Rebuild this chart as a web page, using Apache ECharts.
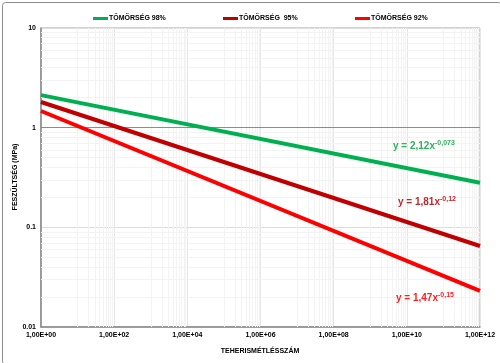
<!DOCTYPE html>
<html>
<head>
<meta charset="utf-8">
<script src="https://cdn.jsdelivr.net/npm/echarts@6/dist/echarts.min.js"></script>
<style>
html,body{margin:0;padding:0;background:#fff;}
#c{width:500px;height:363px;}
</style>
</head>
<body>
<div id="c"></div>
<script>
// ---- data ----
var seriesNames = ['TÖMÖRSÉG 98%', 'TÖMÖRSÉG  95%', 'TÖMÖRSÉG 92%'];
var xValues = [1, 1e12];
var green98 = [2.12, 0.28];
var darkRed95 = [1.81, 0.065];
var red92 = [1.47, 0.023];
var equations = [
  {base: 'y = 2,12x', exp: '-0,073'},
  {base: 'y = 1,81x', exp: '-0,12'},
  {base: 'y = 1,47x', exp: '-0,15'}
];
var xTickLabels = ['1,00E+00','1,00E+02','1,00E+04','1,00E+06','1,00E+08','1,00E+10','1,00E+12'];
var yTickLabels = ['0.01','0.1','1','10'];
var xName = 'TEHERISMÉTLÉSSZÁM';
var yName = 'FESZÜLTSÉG (MPa)';

var colors = ['#00b050', '#c00000', '#ff0000'];
var eqColors = ['#2db35a', '#c0282d', '#ff2020'];

function pairs(ys) { return xValues.map(function (x, i) { return [x, ys[i]]; }); }

// minor grid positions (axis structure, not data)
var xMinor = [];
for (var k = 0; k < 6; k++) {
  var b = Math.pow(100, k);
  for (var j = 1; j <= 9; j++) xMinor.push(b * 10 * j);
}
var yMinor = [];
for (var e = -2; e <= 0; e++) {
  for (var m = 2; m <= 9; m++) yMinor.push(m * Math.pow(10, e));
}
var gridMarks = [];
xMinor.forEach(function (v) { gridMarks.push({xAxis: v, lineStyle: {color: '#f3f3f3'}}); });
yMinor.forEach(function (v) { gridMarks.push({yAxis: v, lineStyle: {color: '#f3f3f3'}}); });
gridMarks.push({yAxis: 1, lineStyle: {color: '#8c8c8c'}});

var chart = echarts.init(document.getElementById('c'), null, {renderer: 'canvas'});
var font = '"Liberation Sans", Arial, sans-serif';

var seriesData = [green98, darkRed95, red92];
var series = [{
  name: '_grid', type: 'line', data: [], silent: true, z: 1,
  markLine: {silent: true, symbol: ['none', 'none'], animation: false, label: {show: false},
    lineStyle: {type: 'solid', width: 1}, data: gridMarks}
}];
seriesData.forEach(function (d, i) {
  series.push({
    name: seriesNames[i], type: 'line', data: pairs(d), showSymbol: false, symbol: 'none',
    lineStyle: {color: colors[i], width: 4}, itemStyle: {color: colors[i]}, z: 5, animation: false
  });
});

var legendLefts = [88, 218, 350];
var legends = seriesNames.map(function (n, i) {
  return {
    left: legendLefts[i], top: 10, data: [n], icon: 'rect', itemWidth: 15, itemHeight: 3, itemGap: 1,
    textStyle: {fontSize: 7, fontWeight: 'bold', color: '#000', fontFamily: font, padding: [0, 0, 0, -4]},
    selectedMode: false
  };
});

var eqPos = [[393, 140], [398, 196], [396, 292]];
var graphics = [
  {type: 'rect', left: 0, top: 0, shape: {x: 0.5, y: 0.5, width: 499, height: 362, r: 3},
   style: {fill: 'none', stroke: '#8c8c8c', lineWidth: 1}, silent: true},
  {type: 'text', style: {text: yName, font: 'bold 7px ' + font, fill: '#000', textAlign: 'center', textVerticalAlign: 'middle'},
   x: 15, y: 177, rotation: Math.PI / 2},
  {type: 'text', style: {text: xName, font: 'bold 7px ' + font, fill: '#000', textAlign: 'center'}, x: 260, y: 348}
];
equations.forEach(function (eq, i) {
  graphics.push({type: 'text', x: eqPos[i][0], y: eqPos[i][1], z: 10,
    style: {text: '{b|' + eq.base + '}{s|' + eq.exp + '}', rich: {
      b: {fontSize: 10, fontWeight: 'bold', fill: eqColors[i], color: eqColors[i], fontFamily: font},
      s: {fontSize: 7, fontWeight: 'bold', fill: eqColors[i], color: eqColors[i], fontFamily: font, verticalAlign: 'top', padding: [0, 0, 6, 0]}
    }}});
});

chart.setOption({
  animation: false,
  backgroundColor: '#fff',
  legend: legends,
  grid: {left: 41, right: 20, top: 28, bottom: 36, show: true, borderColor: '#a6a6a6', borderWidth: 1},
  xAxis: {
    type: 'log', logBase: 100, min: 1, max: 1e12, interval: 1,
    axisLine: {show: true, lineStyle: {color: '#868686', width: 1.5}},
    axisTick: {show: false},
    splitLine: {show: true, lineStyle: {color: '#e6e6e6', width: 1}},
    axisLabel: {fontSize: 7, fontWeight: 'bold', color: '#000', fontFamily: font, margin: 5,
      formatter: function (v) { var p = Math.round(Math.log10(v) / 2); return xTickLabels[p] || ''; }}
  },
  yAxis: {
    type: 'log', logBase: 10, min: 0.01, max: 10, interval: 1,
    axisLine: {show: true, lineStyle: {color: '#868686', width: 1.5}},
    axisTick: {show: false},
    splitLine: {show: true, lineStyle: {color: '#dcdcdc', width: 1}},
    axisLabel: {fontSize: 7, fontWeight: 'bold', color: '#000', fontFamily: font, margin: 5,
      formatter: function (v) { var p = Math.round(Math.log10(v)) + 2; return yTickLabels[p] || ''; }}
  },
  graphic: graphics,
  series: series
});
</script>
</body>
</html>
